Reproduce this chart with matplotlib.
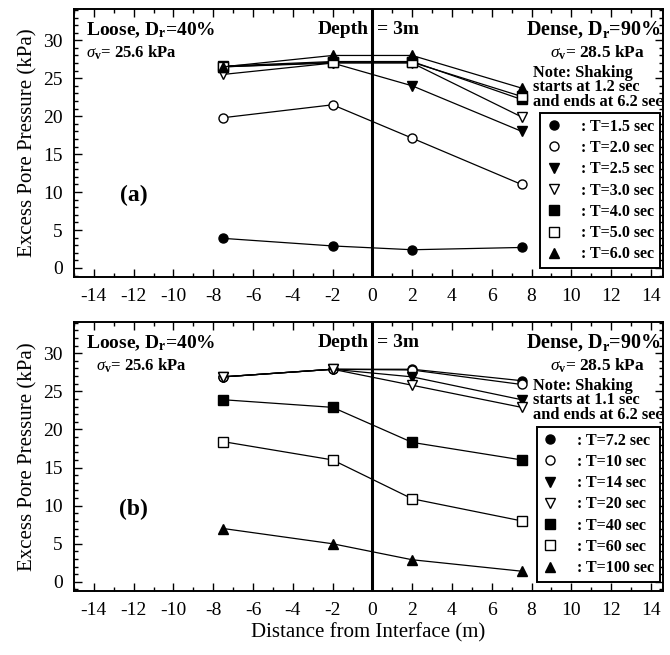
import matplotlib
matplotlib.use("Agg")
import matplotlib.pyplot as plt
from matplotlib.lines import Line2D
from matplotlib.ticker import MultipleLocator

plt.rcParams['font.family'] = ['Liberation Serif', 'DejaVu Serif']
plt.rcParams['mathtext.fontset'] = 'custom'
plt.rcParams['mathtext.rm'] = 'Liberation Serif'
plt.rcParams['mathtext.bf'] = 'Liberation Serif:bold'
plt.rcParams['mathtext.it'] = 'Liberation Serif:italic'
plt.rcParams['axes.unicode_minus'] = False

# ---- data ----
distance = [-7.5, -2, 2, 7.5]

labels_a = [": T=1.5 sec", ": T=2.0 sec", ": T=2.5 sec", ": T=3.0 sec",
            ": T=4.0 sec", ": T=5.0 sec", ": T=6.0 sec"]
t15 = [3.9, 2.9, 2.4, 2.7]
t20 = [19.8, 21.5, 17.1, 11.0]
t25 = [26.5, 27.0, 24.0, 18.0]
t30 = [25.5, 27.0, 27.0, 19.9]
t40 = [26.6, 27.2, 27.2, 22.2]
t50 = [26.5, 27.1, 27.1, 22.6]
t60 = [26.5, 28.0, 28.0, 23.7]
series_a = [t15, t20, t25, t30, t40, t50, t60]

labels_b = [": T=7.2 sec", ": T=10 sec", ": T=14 sec", ": T=20 sec",
            ": T=40 sec", ": T=60 sec", ": T=100 sec"]
t72 = [26.9, 27.9, 27.9, 26.4]
t10 = [26.9, 27.9, 27.8, 25.9]
t14 = [26.9, 27.9, 26.9, 23.9]
t20b = [26.9, 27.9, 25.8, 22.9]
t40b = [23.9, 22.9, 18.3, 16.0]
t60b = [18.4, 16.0, 10.9, 8.0]
t100 = [7.0, 5.0, 2.9, 1.4]
series_b = [t72, t10, t14, t20b, t40b, t60b, t100]

xticks = list(range(-14, 15, 2))
yticks = [0, 5, 10, 15, 20, 25, 30]

# marker styles (marker, filled)
styles = [('o', True), ('o', False), ('v', True), ('v', False),
          ('s', True), ('s', False), ('^', True)]

fig = plt.figure(figsize=(6.7, 6.55), dpi=100)
ax_a = fig.add_axes([0.1104, 0.577, 0.879, 0.409])
ax_b = fig.add_axes([0.1104, 0.0977, 0.879, 0.4107])


def draw(ax, series, labels, start, tag, loose_indent):
    for vals, (m, filled) in zip(series, styles):
        ax.plot(distance, vals, color='black', lw=0.9, marker=m,
                markersize=6.5, markerfacecolor='black' if filled else 'white',
                markeredgecolor='black', markeredgewidth=1.0, zorder=3)
    ax.axvline(0, color='black', lw=2.2, zorder=2)
    ax.set_xlim(-15, 14.6)
    ax.set_ylim(-1.2, 34.1)
    ax.set_xticks(xticks)
    ax.set_yticks(yticks)
    ax.xaxis.set_minor_locator(MultipleLocator(1))
    ax.yaxis.set_minor_locator(MultipleLocator(1))
    ax.tick_params(which='both', direction='in', top=True, right=True,
                   labelsize=14, width=1.0)
    ax.tick_params(which='major', length=6, pad=8)
    ax.tick_params(which='minor', length=3)
    for s in ax.spines.values():
        s.set_linewidth(1.4)
    ax.set_ylabel('Excess Pore Pressure (kPa)', fontsize=15, labelpad=4)

    ax.text(-14.4, 30.7, r'Loose, D$_\mathbf{r}$=40%', fontsize=14,
            fontweight='bold', ha='left', va='baseline')
    ax.text(-14.4 + loose_indent, 28.3, r'$\sigma_\mathbf{v}$= 25.6 kPa',
            fontsize=12, fontweight='bold', ha='left', va='center')
    ax.text(-0.2, 30.8, 'Depth', fontsize=14, fontweight='bold',
            ha='right', va='baseline')
    ax.text(0.25, 30.8, '= 3m', fontsize=14, fontweight='bold',
            ha='left', va='baseline')
    ax.text(14.5, 30.7, r'Dense, D$_\mathbf{r}$=90%', fontsize=14.5,
            fontweight='bold', ha='right', va='baseline')
    ax.text(13.7, 28.3, r'$\sigma_\mathbf{v}$= 28.5 kPa', fontsize=12.5,
            fontweight='bold', ha='right', va='center')
    ax.text(8.05, 26.8, 'Note: Shaking\nstarts at %s sec\nand ends at 6.2 sec' % start,
            fontsize=11.8, fontweight='bold', ha='left', va='top',
            linespacing=0.9, zorder=6)
    ax.text(-12.0, 9.5, tag, fontsize=17, fontweight='bold',
            ha='center', va='center')

    handles = [Line2D([], [], linestyle='None', marker=m, markersize=6.5,
                      markerfacecolor='black' if f else 'white',
                      markeredgecolor='black') for m, f in styles]
    leg = ax.legend(handles, labels, loc='lower right',
                    bbox_to_anchor=(0.995, 0.034), borderaxespad=0,
                    fancybox=False, framealpha=1, edgecolor='black',
                    prop={'family': 'Liberation Serif', 'weight': 'bold',
                          'size': 11.5},
                    handlelength=1.0, handletextpad=1.2, labelspacing=0.33,
                    borderpad=0.35)
    leg.get_frame().set_linewidth(1.4)
    leg.set_zorder(5)


draw(ax_a, series_a, labels_a, '1.2', '(a)', 0.0)
draw(ax_b, series_b, labels_b, '1.1', '(b)', 0.5)
ax_b.set_xlabel('Distance from Interface (m)', fontsize=15, labelpad=3)

fig.savefig('out.png', dpi=100)
